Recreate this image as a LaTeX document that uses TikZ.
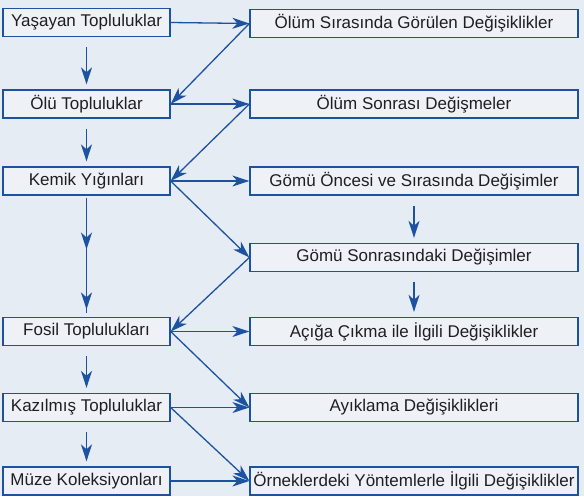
\documentclass[tikz,border=0pt]{standalone}
\usepackage{fontspec}
\setmainfont{Liberation Sans}
\usepackage{tikz}
\usetikzlibrary{arrows.meta,positioning,decorations.markings}
\definecolor{darkblue}{RGB}{28,82,160}
\definecolor{bgblue}{RGB}{230,236,243}
\definecolor{lightblue}{RGB}{238,242,247}
\definecolor{textgray}{RGB}{30,30,35}

\begin{document}
\begin{tikzpicture}[x=1pt, y=-1pt,
        box/.style={rectangle, draw=darkblue, fill=lightblue, line width=1.3pt,
                    minimum height=28pt, inner sep=0pt, font=\fontsize{17}{19}\selectfont,
                    text=textgray},
        leftbox/.style={box, minimum width=167pt},
        rightbox/.style={box, minimum width=328pt},
        arrow/.style={-{Stealth[length=17pt,width=11pt,inset=5pt]}, line width=1.3pt, darkblue},
        varrow/.style={arrow, line width=1.7pt, shorten <=10pt, shorten >=5pt},
        twoheads/.style={line width=1.7pt, darkblue, decoration={markings,
                    mark=at position 0.45 with {\arrow{Stealth[length=17pt,width=11pt,inset=5pt]}},
                    mark=at position 0.97 with {\arrow{Stealth[length=17pt,width=11pt,inset=5pt]}}},
                    postaction={decorate}}
    ]
    \useasboundingbox[fill=bgblue] (0,0) rectangle (584,496);

    % left column
    \node[leftbox] (yasayan) at (86.5,22.5) {Yaşayan Topluluklar};
    \node[leftbox] (olu) at (86.5,104) {Ölü Topluluklar};
    \node[leftbox] (kemik) at (86.5,181) {Kemik Yığınları};
    \node[leftbox] (fosil) at (86.5,331.5) {Fosil Toplulukları};
    \node[leftbox] (kazilmis) at (86.5,407.5) {Kazılmış Topluluklar};
    \node[leftbox] (muze) at (86.5,481) {Müze Koleksiyonları};

    % right column
    \node[rightbox] (sirasinda) at (414,23.5) {Ölüm Sırasında Görülen Değişiklikler};
    \node[rightbox] (sonrasi) at (414,104) {Ölüm Sonrası Değişmeler};
    \node[rightbox] (gomuonce) at (414,181) {Gömü Öncesi ve Sırasında Değişimler};
    \node[rightbox] (gomusonra) at (414,257.5) {Gömü Sonrasındaki Değişimler};
    \node[rightbox] (aciga) at (414,331.5) {Açığa Çıkma ile İlgili Değişiklikler};
    \node[rightbox] (ayiklama) at (414,407.5) {Ayıklama Değişiklikleri};
    \node[rightbox] (ornek) at (414,481) {Örneklerdeki Yöntemlerle İlgili Değişiklikler};

    \draw[arrow] (yasayan.east) -- (sirasinda.west);
    \draw[arrow] (olu.east) -- (sonrasi.west);
    \draw[arrow] (kemik.east) -- (gomuonce.west);
    \draw[arrow] (fosil.east) -- (aciga.west);
    \draw[arrow] (kazilmis.east) -- (ayiklama.west);
    \draw[arrow] (muze.east) -- (ornek.west);

    \draw[arrow] (sirasinda.west) -- (olu.east);
    \draw[arrow] (sonrasi.west) -- (kemik.east);
    \draw[arrow] (kemik.east) -- (gomusonra.west);
    \draw[arrow] (gomusonra.west) -- (fosil.east);
    \draw[arrow] (fosil.east) -- (ayiklama.west);
    \draw[arrow] (kazilmis.east) -- (ornek.west);

    \draw[varrow] (yasayan) -- (olu);
    \draw[varrow] (olu) -- (kemik);
    \draw[twoheads] ([yshift=-2pt]kemik.south) -- ([yshift=4pt]fosil.north);
    \draw[varrow] (fosil) -- (kazilmis);
    \draw[varrow] (kazilmis) -- (muze);
    \draw[varrow] (gomuonce) -- (gomusonra);
    \draw[varrow] (gomusonra) -- (aciga);
\end{tikzpicture}
\end{document}
